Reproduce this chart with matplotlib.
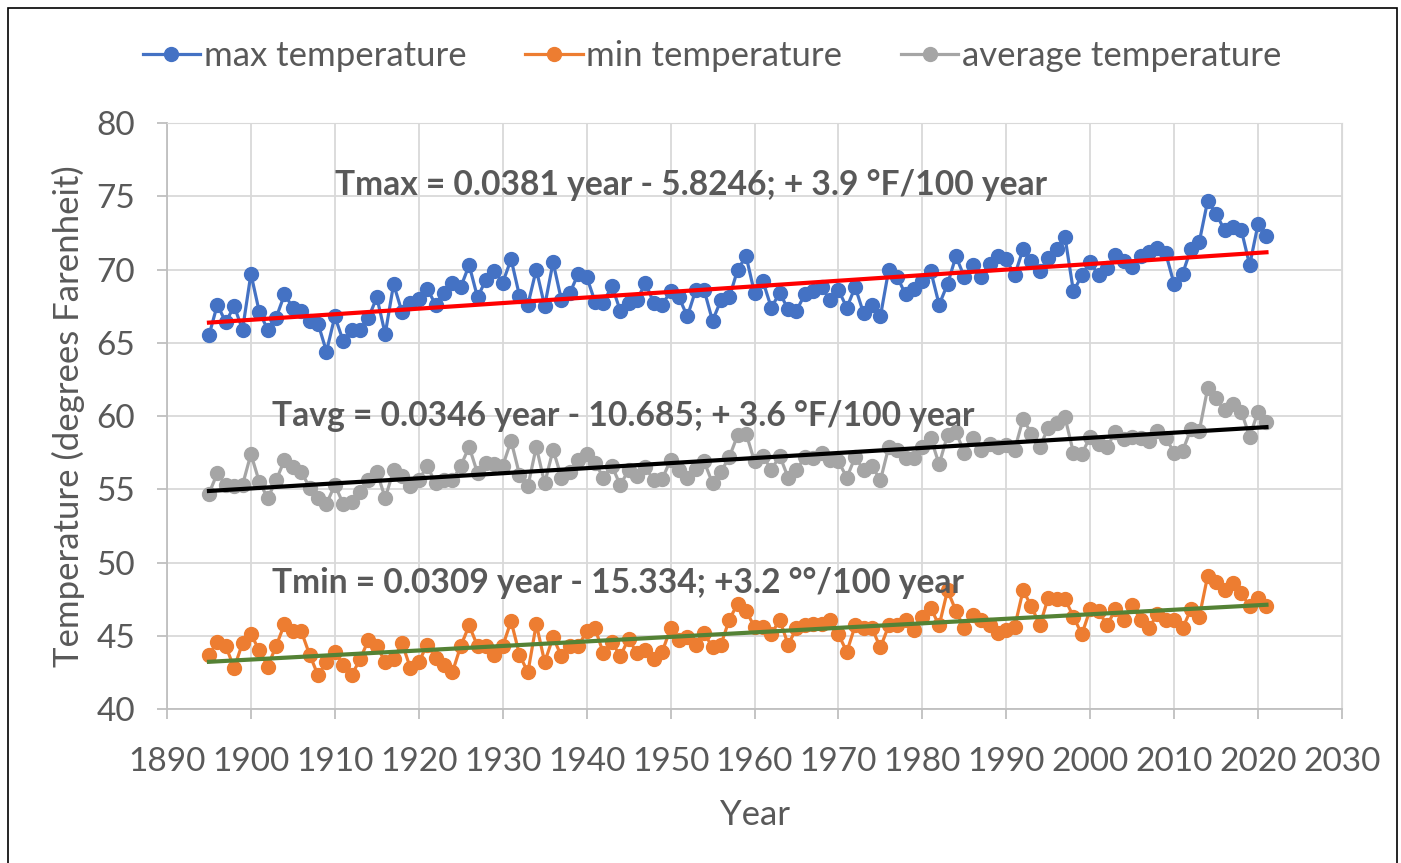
import numpy as np
import matplotlib
matplotlib.use("Agg")
import matplotlib.pyplot as plt
from matplotlib.patches import Rectangle

plt.rcParams['font.family'] = ['Lato', 'DejaVu Sans']

# Data, years 1895..2021
years = list(range(1895, 2022))

tmax = [65.5, 67.6, 66.4, 67.5, 65.9,
        69.7, 67.1, 65.9, 66.7, 68.3, 67.4, 67.2, 66.5, 66.3, 64.4,
        66.8, 65.1, 65.9, 65.9, 66.7, 68.1, 65.6, 69.0, 67.1, 67.7,
        68.0, 68.7, 67.6, 68.4, 69.1, 68.8, 70.3, 68.1, 69.3, 69.9,
        69.1, 70.7, 68.2, 67.6, 70.0, 67.5, 70.5, 67.9, 68.4, 69.7,
        69.5, 67.8, 67.7, 68.9, 67.2, 67.7, 67.9, 69.1, 67.7, 67.6,
        68.5, 68.1, 66.8, 68.6, 68.6, 66.5, 67.9, 68.1, 70.0, 70.9,
        68.4, 69.2, 67.4, 68.4, 67.3, 67.2, 68.3, 68.5, 68.8, 67.9,
        68.6, 67.4, 68.8, 67.0, 67.6, 66.8, 70.0, 69.5, 68.3, 68.7,
        69.2, 69.9, 67.6, 69.0, 70.9, 69.5, 70.3, 69.5, 70.4, 70.9,
        70.7, 69.6, 71.4, 70.6, 69.9, 70.8, 71.4, 72.2, 68.5, 69.6,
        70.5, 69.6, 70.1, 71.0, 70.6, 70.2, 70.9, 71.2, 71.5, 71.1,
        69.0, 69.7, 71.4, 71.9, 74.7, 73.8, 72.7, 72.9, 72.7, 70.3,
        73.1, 72.3]

tavg = [54.7, 56.1, 55.3, 55.2, 55.3,
        57.4, 55.5, 54.4, 55.6, 57.0, 56.5, 56.2, 55.1, 54.4, 54.0,
        55.3, 54.0, 54.1, 54.8, 55.6, 56.2, 54.4, 56.3, 55.9, 55.2,
        55.6, 56.6, 55.4, 55.6, 55.6, 56.6, 57.9, 56.1, 56.8, 56.7,
        56.6, 58.3, 56.0, 55.2, 57.9, 55.4, 57.7, 55.8, 56.2, 57.0,
        57.4, 56.8, 55.8, 56.6, 55.3, 56.3, 55.9, 56.5, 55.6, 55.7,
        57.0, 56.3, 55.8, 56.4, 56.9, 55.4, 56.2, 57.2, 58.7, 58.8,
        56.9, 57.3, 56.3, 57.3, 55.8, 56.3, 57.2, 57.1, 57.5, 57.0,
        56.9, 55.8, 57.2, 56.3, 56.6, 55.6, 57.9, 57.7, 57.1, 57.1,
        57.9, 58.5, 56.7, 58.7, 58.9, 57.5, 58.5, 57.7, 58.1, 57.9,
        58.0, 57.7, 59.8, 58.8, 57.9, 59.2, 59.5, 59.9, 57.5, 57.4,
        58.6, 58.1, 57.9, 58.9, 58.4, 58.6, 58.5, 58.3, 59.0, 58.5,
        57.5, 57.6, 59.1, 59.0, 61.9, 61.2, 60.4, 60.8, 60.3, 58.6,
        60.3, 59.6]

tmin = [43.7, 44.6, 44.3, 42.8, 44.5,
        45.1, 44.0, 42.9, 44.3, 45.8, 45.3, 45.3, 43.7, 42.3, 43.2,
        43.9, 43.0, 42.3, 43.4, 44.7, 44.3, 43.2, 43.4, 44.5, 42.8,
        43.2, 44.4, 43.5, 43.0, 42.5, 44.3, 45.7, 44.3, 44.3, 43.7,
        44.3, 46.0, 43.7, 42.5, 45.8, 43.2, 44.9, 43.6, 44.3, 44.3,
        45.3, 45.5, 43.8, 44.6, 43.6, 44.8, 43.8, 44.0, 43.4, 43.9,
        45.5, 44.7, 44.9, 44.4, 45.2, 44.2, 44.4, 46.1, 47.2, 46.7,
        45.6, 45.6, 45.1, 46.1, 44.4, 45.5, 45.7, 45.8, 45.8, 46.1,
        45.1, 43.9, 45.7, 45.5, 45.5, 44.2, 45.7, 45.7, 46.1, 45.4,
        46.3, 46.9, 45.7, 48.1, 46.7, 45.5, 46.4, 46.1, 45.7, 45.2,
        45.4, 45.6, 48.1, 47.0, 45.7, 47.6, 47.5, 47.5, 46.3, 45.1,
        46.8, 46.7, 45.7, 46.8, 46.1, 47.1, 46.1, 45.5, 46.5, 46.1,
        46.1, 45.5, 46.8, 46.3, 49.1, 48.7, 48.1, 48.6, 47.9, 47.0,
        47.6, 47.0]

# trend lines as printed on the chart
trend_slopes = [0.0381, 0.0346, 0.0309]
trend_intercepts = [-5.8246, -10.685, -15.334]
trend_labels = ["Tmax = 0.0381 year - 5.8246; + 3.9 \u00b0F/100 year",
                "Tavg = 0.0346 year - 10.685; + 3.6 \u00b0F/100 year",
                "Tmin = 0.0309 year - 15.334; +3.2 \u00b0\u00b0/100 year"]

W, H = 1401, 863
fig = plt.figure(figsize=(W / 100, H / 100), dpi=100)
ax = fig.add_axes([167 / W, 1 - 709 / H, (1342 - 167) / W, (709 - 123) / H])

txt = '#595959'
grid = '#d9d9d9'

ax.plot(years, tmax, '-o', color='#4472C4', lw=2.3, ms=10, label='max temperature', zorder=3)
ax.plot(years, tmin, '-o', color='#ED7D31', lw=2.3, ms=10, label='min temperature', zorder=3)
ax.plot(years, tavg, '-o', color='#A5A5A5', lw=2.3, ms=10, label='average temperature', zorder=3)

yr = np.array([years[0], years[-1]])
for m, b, c in zip(trend_slopes, trend_intercepts, ['#FF0000', '#000000', '#548235']):
    ax.plot(yr, m * yr + b, color=c, lw=3, zorder=4)

ax.text(1910.0, 75.8, trend_labels[0], fontsize=24.2, fontweight='bold', color=txt, va='center', zorder=5)
ax.text(1902.5, 60.0, trend_labels[1], fontsize=24.2, fontweight='bold', color=txt, va='center', zorder=5)
ax.text(1902.5, 48.6, trend_labels[2], fontsize=24.2, fontweight='bold', color=txt, va='center', zorder=5)

ax.set_xlim(1890, 2030)
ax.set_ylim(40, 80)
ax.set_xticks(range(1890, 2031, 10))
ax.set_yticks(range(40, 81, 5))
ax.grid(True, color=grid, lw=1.3)
ax.set_axisbelow(True)
for s in ['top', 'right']:
    ax.spines[s].set_color(grid)
for s in ['left', 'bottom']:
    ax.spines[s].set_color('#bfbfbf')
    ax.spines[s].set_linewidth(1.3)
ax.tick_params(axis='both', colors='#bfbfbf', labelcolor=txt, labelsize=24, length=7, width=1.3, direction='out')
ax.tick_params(axis='x', pad=20)
ax.tick_params(axis='y', pad=16)
ax.set_xlabel('Year', fontsize=25, color=txt, labelpad=16)
ax.set_ylabel('Temperature (degrees Farenheit)', fontsize=25, color=txt, labelpad=8)

fig.legend(loc='center', bbox_to_anchor=(712 / W, 1 - 56 / H), ncol=3, frameon=False,
           fontsize=25, labelcolor=txt, handlelength=1.65, handletextpad=0.1, columnspacing=1.7)

fig.patches.append(Rectangle((8 / W, -0.01), (1397 - 8) / W, 1.01 - 8 / H,
                             transform=fig.transFigure, fill=False, edgecolor='black', lw=1.2))

fig.savefig('out.png', dpi=100)
